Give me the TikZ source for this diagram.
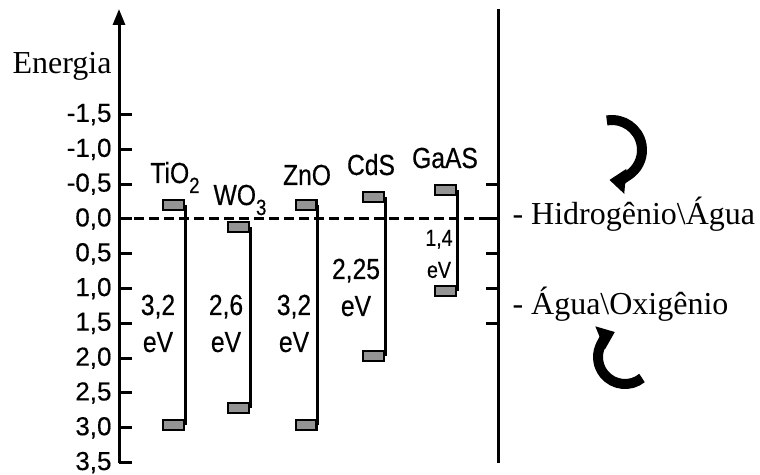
\documentclass[tikz,border=0pt]{standalone}
\usepackage{fontspec}
\setmainfont{Liberation Serif}
\newfontfamily\arialfont[FakeBold=0.4]{Liberation Sans}
\newfontfamily\narrowfont[FakeStretch=0.85,FakeBold=0.4]{Liberation Sans}
\usetikzlibrary{arrows.meta}
\newcommand{\lowsub}[1]{\raisebox{-5pt}{\fontsize{11}{11}\selectfont #1}}
\tikzset{%
  bandbar/.style  = {shape=rectangle, draw, line width=1.2pt, fill=black!42,%
                     minimum width=10.3pt, minimum height=5pt, inner sep=0pt},%
  material/.style = {font=\narrowfont\fontsize{14.5}{18.5}\selectfont, inner sep=0pt, anchor=base},%
  gap/.style      = {font=\narrowfont\fontsize{14.5}{18.5}\selectfont, inner sep=0pt, align=center},%
  scalelabel/.style = {font=\arialfont\fontsize{13}{13}\selectfont, anchor=east, inner sep=0pt},%
  couple/.style   = {font=\fontsize{16}{18}\selectfont, anchor=base west, inner sep=0pt}%
}

\begin{document}
\begin{tikzpicture}[x=0.5pt,y=-0.5pt,
	line width=1.5pt,
	cycle/.style={line width=5pt,-{Triangle[length=8pt,width=12pt]}}]
	\useasboundingbox (0,0) rectangle (760,475);
	% axes
	\coordinate (axisbot) at (119,463);
	\coordinate (axistop) at (119,9);
	\coordinate (rbot) at (498,463);
	\coordinate (rtop) at (498,9);
	\coordinate (origin) at (119,219);
	\draw[-{Triangle[length=8pt,width=6pt]}] (axisbot) -- (axistop);
	\draw (rbot) -- (rtop);
	\node[font=\fontsize{16}{17}\selectfont, anchor=base, inner sep=0pt] (energia) at (62,74) {Energia};
	% energy scale, 0.5 eV = 34.8
	\foreach \e/\lab [count=\i] in {-1.5/{-1,5},-1.0/{-1,0},-0.5/{-0,5},0/{0,0},0.5/{0,5},
		1.0/{1,0},1.5/{1,5},2.0/{2,0},2.5/{2,5},3.0/{3,0},3.5/{3,5}}{
		\draw (119,219+69.6*\e) -- (132,219+69.6*\e);
		\node[scalelabel] (tick\i) at (113,219+69.6*\e) {\lab};
	}
	\foreach \e in {-0.5,0,0.5,1.0,1.5}
		\draw (486,219+69.6*\e) -- (498,219+69.6*\e);

	% band edges
	\node[bandbar] (tio2c) at (173.5,205) {};
	\node[bandbar] (tio2v) at (173.5,425) {};
	\node[bandbar] (wo3c)  at (238.5,227) {};
	\node[bandbar] (wo3v)  at (238.5,408) {};
	\node[bandbar] (znoc)  at (306,205) {};
	\node[bandbar] (znov)  at (306,425) {};
	\node[bandbar] (cdsc)  at (373.5,197) {};
	\node[bandbar] (cdsv)  at (373.5,356) {};
	\node[bandbar] (gaasc) at (445.5,190) {};
	\node[bandbar] (gaasv) at (445.5,291) {};
	\foreach \m in {tio2,wo3,zno,cds,gaas}
		\draw (\m c.east) -- (\m v.east);

	\draw[dash pattern=on 5pt off 2.5pt] (origin) -- (origin -| rtop);

	% names and gaps
	\node[material] (tio2) at (175,183) {TiO\lowsub{2}};
	\node[material] (wo3)  at (240,205) {WO\lowsub{3}};
	\node[material] (zno)  at (307,185) {ZnO};
	\node[material] (cds)  at (371,175) {CdS};
	\node[material] (gaas) at (445,168) {GaAS};
	\node[gap] (tio2gap) at (158,323.5) {3,2\\eV};
	\node[gap] (wo3gap)  at (226,323.5) {2,6\\eV};
	\node[gap] (znogap)  at (294,323.5) {3,2\\eV};
	\node[gap] (cdsgap)  at (356,287.5) {2,25\\eV};
	\node[gap, font=\narrowfont\fontsize{11.5}{16}\selectfont] (gaasgap) at (439,254) {1,4\\eV};

	% water redox couples
	\node[couple] (hidro) at (511,225) {- Hidrogênio\textbackslash Água};
	\node[couple] (oxi)   at (511,315) {- Água\textbackslash Oxigênio};
	\draw[cycle] (606.8,120.5) arc[start angle=-100, end angle=95, radius=30];
	\draw[cycle] (642,378) arc[start angle=51, end angle=248, radius=27];
\end{tikzpicture}
\end{document}
